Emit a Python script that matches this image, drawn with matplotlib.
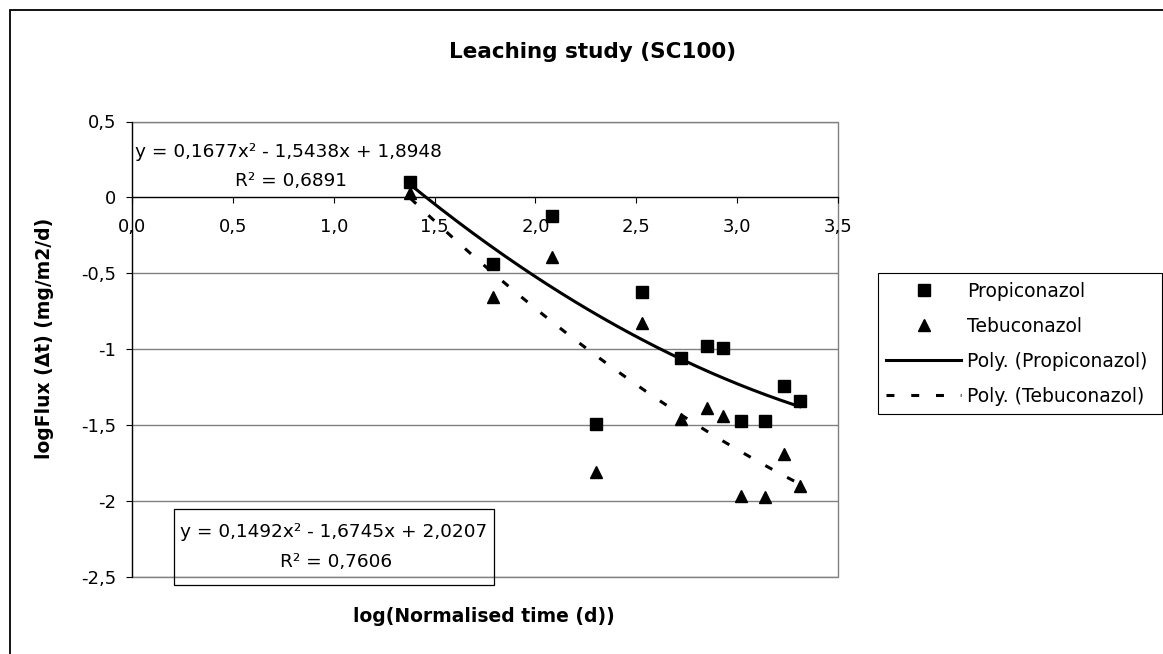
import numpy as np
import matplotlib
matplotlib.use("Agg")
import matplotlib.pyplot as plt
from matplotlib.patches import Rectangle

# values (x = log normalised time, y = log flux)
log_time = [1.38, 1.79, 2.08, 2.30, 2.53, 2.72, 2.85, 2.93, 3.02, 3.14, 3.23, 3.31]
propiconazol = [0.10, -0.44, -0.12, -1.49, -0.62, -1.055, -0.98, -0.99, -1.475, -1.475, -1.24, -1.34]
tebuconazol = [0.03, -0.655, -0.39, -1.81, -0.83, -1.46, -1.39, -1.44, -1.965, -1.975, -1.69, -1.90]

# trendline coefficients as printed on the chart (x^2, x, 1)
fit_propi = [0.1677, -1.5438, 1.8948]
fit_tebu = [0.1492, -1.6745, 2.0207]
r2_propi = 0.6891
r2_tebu = 0.7606

xticks = [0.0, 0.5, 1.0, 1.5, 2.0, 2.5, 3.0, 3.5]
xticklabels = ["0,0", "0,5", "1,0", "1,5", "2,0", "2,5", "3,0", "3,5"]
yticks = [0.5, 0.0, -0.5, -1.0, -1.5, -2.0, -2.5]
yticklabels = ["0,5", "0", "-0,5", "-1", "-1,5", "-2", "-2,5"]

W, H = 1163, 654
GRID = "#808080"


def eq_text(c):
    s = "y = %.4fx² - %.4fx + %.4f" % (c[0], abs(c[1]), c[2])
    return s.replace(".", ",")


def r2_text(r):
    return ("R² = %.4f" % r).replace(".", ",")


fig = plt.figure(figsize=(W / 100, H / 100), dpi=100, facecolor="white")

# outer chart border (runs off the right / bottom edge like the original)
fig.add_artist(Rectangle((10 / W, -0.05), 1.2, 1 - 10 / H + 0.05,
                         transform=fig.transFigure, fill=False,
                         ec="black", lw=1.3))

ax = fig.add_axes([132 / W, 1 - 577 / H, 706 / W, 455.5 / H])
ax.set_xlim(0, 3.5)
ax.set_ylim(-2.5, 0.5)

for side in ["top", "right"]:
    ax.spines[side].set_visible(False)
ax.spines["bottom"].set_position(("data", 0))
ax.spines["bottom"].set_color("black")
ax.spines["bottom"].set_linewidth(0.9)
ax.spines["left"].set_linewidth(0.9)
ax.spines["left"].set_zorder(5)

# grey plot-area frame
ax.add_patch(Rectangle((0, 0), 1, 1, transform=ax.transAxes, fill=False,
                       ec=GRID, lw=1.0, clip_on=False, zorder=0.5))

ax.set_xticks(xticks)
ax.set_xticklabels(xticklabels)
ax.set_yticks(yticks)
ax.set_yticklabels(yticklabels)
ax.tick_params(axis="x", direction="out", length=4.5, width=0.8, pad=10, labelsize=13)
ax.tick_params(axis="y", direction="out", length=4.5, width=0.8, pad=7, labelsize=13)
ax.yaxis.grid(True, color=GRID, lw=1.0)
ax.set_axisbelow(True)

p_pts, = ax.plot(log_time, propiconazol, ls="none", marker="s", ms=8,
                 color="black", label="Propiconazol", clip_on=False, zorder=3)
t_pts, = ax.plot(log_time, tebuconazol, ls="none", marker="^", ms=9,
                 color="black", label="Tebuconazol", clip_on=False, zorder=3)

xs = np.linspace(min(log_time), max(log_time), 200)
p_fit, = ax.plot(xs, np.polyval(fit_propi, xs), color="black", lw=2.2,
                 label="Poly. (Propiconazol)", zorder=4)
t_fit, = ax.plot(xs, np.polyval(fit_tebu, xs), color="black", lw=2.2,
                 ls=(0, (2.6, 5.5)), label="Poly. (Tebuconazol)", zorder=4)

# trendline labels
ax.text(0.778, 0.297, eq_text(fit_propi), ha="center", va="center", fontsize=13.3)
ax.text(0.788, 0.106, r2_text(r2_propi), ha="center", va="center", fontsize=13.3)
ax.text(1.0, -2.201, eq_text(fit_tebu), ha="center", va="center", fontsize=13.3)
ax.text(1.01, -2.399, r2_text(r2_tebu), ha="center", va="center", fontsize=13.3)
ax.add_patch(Rectangle((0.208, -2.555), 1.587, 0.502, fill=False, ec="black",
                       lw=0.9, clip_on=False, zorder=2))

leg = ax.legend(handles=[p_pts, t_pts, p_fit, t_fit], loc="upper left",
                bbox_to_anchor=(877.7 / W, 1 - 273.3 / H, 284 / W, 0),
                bbox_transform=fig.transFigure, mode="expand",
                fontsize=13.5, handlelength=4, handletextpad=0.3,
                borderpad=0.45, labelspacing=0.85, borderaxespad=0,
                numpoints=1, fancybox=False, framealpha=1, edgecolor="black")
leg.get_frame().set_linewidth(0.8)

fig.text(593 / W, 1 - 52 / H, "Leaching study (SC100)", ha="center", va="center",
         fontsize=15.5, fontweight="bold")
fig.text(483.5 / W, 1 - 617 / H, "log(Normalised time (d))", ha="center",
         va="center", fontsize=13.5, fontweight="bold")
fig.text(45 / W, 1 - 338 / H, "logFlux (Δt) (mg/m2/d)", ha="center",
         va="center", rotation=90, fontsize=13.5, fontweight="bold")

fig.savefig("out.png", dpi=100, facecolor="white")
